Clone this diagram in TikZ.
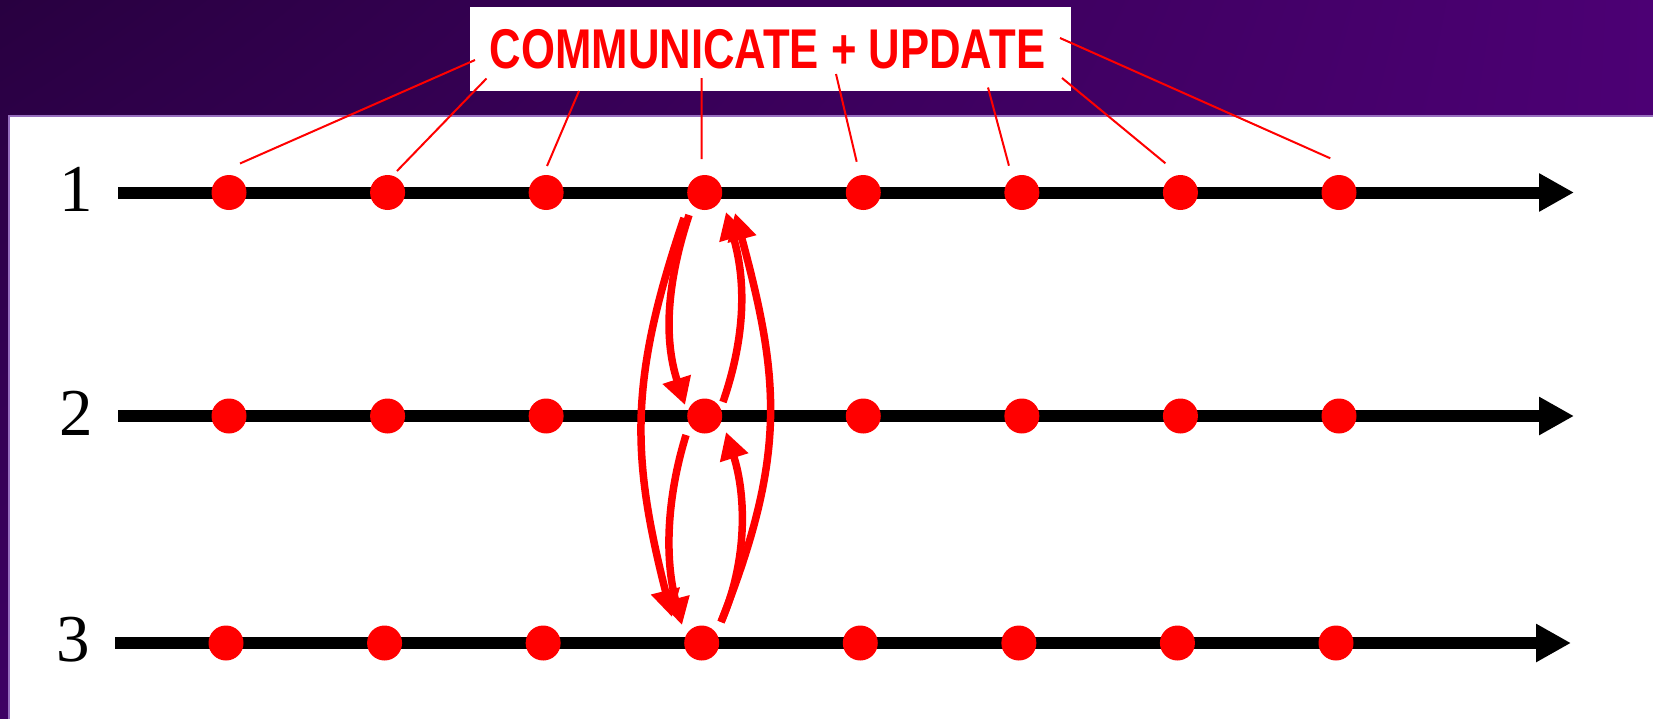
\documentclass[tikz,border=0pt]{standalone}
\usepackage{fontspec}
\usepackage{graphicx}
\setmainfont{Liberation Serif}
\newfontfamily\titlefont{Liberation Sans}
\usetikzlibrary{arrows.meta,calc,shadings}
\definecolor{pdark}{RGB}{40,0,64}
\definecolor{pmid}{RGB}{62,0,100}
\definecolor{pbright}{RGB}{76,0,116}
\definecolor{plight}{RGB}{150,110,190}
\tikzset{
  dotnode/.style={circle,fill=red,draw=none,minimum size=35pt,inner sep=0pt},
  axisline/.style={line width=12pt,-{Triangle[length=35pt,width=36pt]}},
  callout/.style={red,line width=2pt},
  flow/.style={red,line width=7.5pt,-{Triangle[length=27pt,width=28pt]}},
  rowlabel/.style={font=\fontsize{67}{70}\selectfont,inner sep=0pt},
  titlebox/.style={fill=white,draw=none,minimum width=601pt,minimum height=84pt,inner sep=0pt,anchor=north west},
  titletext/.style={text=red,inner sep=0pt,font=\titlefont\bfseries\fontsize{56}{60}\selectfont}
}
\begin{document}
\begin{tikzpicture}[x=1pt,y=-1pt]
\useasboundingbox (0,0) rectangle (1653,718);
% background
\shade[upper left=pdark, upper right=pbright, lower left=pmid, lower right=pbright] (0,0) rectangle (1653,718);
\fill[white] (9,116) rectangle (1665,730);
\draw[plight,line width=1.2pt] (9,730) -- (9,116) -- (1665,116);
% title
\node[titlebox] (title) at (470,7) {};
\node[titletext] (titletxt) at (767.5,49.5) {\scalebox{0.78}[1]{COMMUNICATE + UPDATE}};
% row labels
\node[rowlabel] (lab1) at (76,189.5) {1};
\node[rowlabel] (lab2) at (76,413) {2};
\node[rowlabel] (lab3) at (73,640) {3};
% axes
\coordinate (a1s) at (118,192.5); \coordinate (a1e) at (1574,192.5);
\coordinate (a2s) at (118,416);   \coordinate (a2e) at (1574,416);
\coordinate (a3s) at (115,643);   \coordinate (a3e) at (1571,643);
\draw[axisline] (a1s) -- (a1e);
\draw[axisline] (a2s) -- (a2e);
\draw[axisline] (a3s) -- (a3e);
% dots
\foreach \i in {1,...,8} {
  \node[dotnode] (d1-\i) at ({229+158.57*(\i-1)},192.5) {};
  \node[dotnode] (d2-\i) at ({229+158.57*(\i-1)},416) {};
  \node[dotnode] (d3-\i) at ({226+158.57*(\i-1)},643) {};
}
% callout lines
\coordinate (c1) at (475,60);
\coordinate (c2) at (486.5,78.5);
\coordinate (c3) at (579,91);
\coordinate (c4) at (701.7,78);
\coordinate (c5) at (836,74);
\coordinate (c6) at (988,87.5);
\coordinate (c7) at (1062,78);
\coordinate (c8) at (1060,38);
\draw[callout] (c1) -- ($(d1-1)+(11,-29)$);
\draw[callout] (c2) -- ($(d1-2)+(9.4,-21.5)$);
\draw[callout] (c3) -- ($(d1-3)+(0.9,-26.5)$);
\draw[callout] (c4) -- ($(d1-4)+(-3,-33.5)$);
\draw[callout] (c5) -- ($(d1-5)+(-6.6,-30.8)$);
\draw[callout] (c6) -- ($(d1-6)+(-12.9,-26.8)$);
\draw[callout] (c7) -- ($(d1-7)+(-15,-29.2)$);
\draw[callout] (c8) -- ($(d1-8)+(-8.7,-34.2)$);
% communication arrows
\draw[flow] ($(d1-4)+(-15.7,22.5)$) .. controls (666,285) and (664,340) .. ($(d2-4)+(-19.7,-11)$);
\draw[flow] ($(d2-4)+(18.3,-14)$) .. controls (746,335) and (746,280) .. ($(d1-4)+(21.3,19.5)$);
\draw[flow] ($(d1-4)+(-20.7,25.5)$) .. controls (629,380) and (631,455) .. ($(d3-4)+(-29.7,-26)$);
\draw[flow] ($(d3-4)+(19.3,-21)$) .. controls (787,455) and (780,380) .. ($(d1-4)+(30.3,20.5)$);
\draw[flow] ($(d2-4)+(-18.7,19)$) .. controls (666,500) and (665,560) .. ($(d3-4)+(-19.7,-18)$);
\draw[flow] ($(d3-4)+(19.3,-21)$) .. controls (748,560) and (746,495) .. ($(d2-4)+(21.3,16)$);
\end{tikzpicture}
\end{document}
